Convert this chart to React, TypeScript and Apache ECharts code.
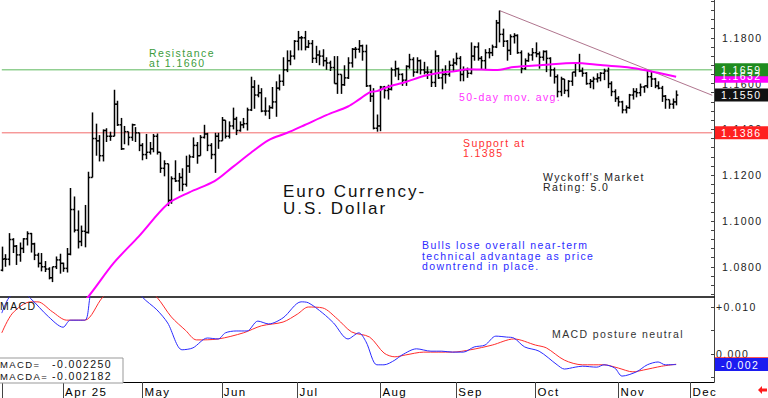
import React, { useEffect, useRef } from "react";
import * as echarts from "echarts";

const FONT = '"Liberation Sans", Arial, sans-serif';

// ---- categories: trading days (weekdays) shown on the chart ----
const FIRST_DAY = "2025-03-07";
const DAY_COUNT = 198;
const MONTH_LABELS = ["Jan", "Feb", "Mar", "Apr 25", "May", "Jun", "Jul", "Aug", "Sep", "Oct", "Nov", "Dec"];

// ---- daily bars [open, high, low, close] ----
const marBars = [
  [1.0785, 1.0888, 1.078, 1.0833], [1.0835, 1.0855, 1.08, 1.0833], [1.0833, 1.0947, 1.0806, 1.0919],
  [1.0919, 1.0925, 1.086, 1.089], [1.089, 1.0895, 1.0808, 1.0852], [1.0852, 1.0906, 1.0822, 1.088],
  [1.088, 1.0925, 1.086, 1.0922], [1.0922, 1.0955, 1.0893, 1.0945], [1.0945, 1.0948, 1.0862, 1.09],
  [1.09, 1.0905, 1.0829, 1.0851], [1.0851, 1.0861, 1.0797, 1.0815], [1.0815, 1.086, 1.078, 1.08],
  [1.08, 1.0825, 1.0777, 1.079], [1.079, 1.0798, 1.0745, 1.0752], [1.0752, 1.08, 1.0733, 1.08],
  [1.08, 1.0845, 1.079, 1.083], [1.083, 1.0857, 1.077, 1.0815],
];
const aprBars = [
  [1.0815, 1.0818, 1.0778, 1.0793], [1.0793, 1.0882, 1.0775, 1.0855], [1.0855, 1.1144, 1.085, 1.105],
  [1.105, 1.1107, 1.095, 1.096], [1.096, 1.1046, 1.088, 1.091], [1.091, 1.098, 1.089, 1.0955],
  [1.0955, 1.107, 1.0885, 1.095], [1.095, 1.1215, 1.0945, 1.119], [1.119, 1.1474, 1.119, 1.136],
  [1.136, 1.1425, 1.1285, 1.135], [1.135, 1.1375, 1.126, 1.1285], [1.1285, 1.14, 1.126, 1.1395],
  [1.1395, 1.1405, 1.1345, 1.137], [1.137, 1.139, 1.135, 1.137], [1.137, 1.1573, 1.137, 1.151],
  [1.151, 1.1525, 1.1415, 1.142], [1.142, 1.145, 1.131, 1.1315], [1.1315, 1.1415, 1.1335, 1.139],
  [1.139, 1.139, 1.133, 1.1365], [1.1365, 1.1425, 1.135, 1.142], [1.142, 1.141, 1.1345, 1.1385],
  [1.1385, 1.1385, 1.1305, 1.133],
];
const mayBars = [
  [1.133, 1.134, 1.1265, 1.129], [1.129, 1.138, 1.127, 1.13], [1.13, 1.1345, 1.129, 1.1315],
  [1.1315, 1.138, 1.13, 1.137], [1.137, 1.1382, 1.129, 1.13], [1.13, 1.13, 1.121, 1.123],
  [1.123, 1.1265, 1.1195, 1.125], [1.125, 1.125, 1.1065, 1.109], [1.109, 1.1195, 1.1075, 1.1185],
  [1.1185, 1.1265, 1.117, 1.1175], [1.1175, 1.121, 1.113, 1.119], [1.119, 1.123, 1.113, 1.116],
  [1.116, 1.1285, 1.115, 1.124], [1.124, 1.129, 1.121, 1.128], [1.128, 1.1365, 1.1275, 1.133],
  [1.133, 1.1345, 1.125, 1.1285], [1.1285, 1.1375, 1.1285, 1.1365], [1.1365, 1.142, 1.136, 1.138],
  [1.138, 1.1385, 1.1305, 1.133], [1.133, 1.134, 1.127, 1.129], [1.129, 1.1385, 1.121, 1.137],
  [1.137, 1.1385, 1.1315, 1.135],
];
const junBars = [
  [1.135, 1.1454, 1.135, 1.144], [1.144, 1.144, 1.136, 1.137], [1.137, 1.1435, 1.136, 1.1415],
  [1.1415, 1.1495, 1.14, 1.1445], [1.1445, 1.1455, 1.1375, 1.1395], [1.1395, 1.1435, 1.139, 1.142],
  [1.142, 1.145, 1.1405, 1.1425], [1.1425, 1.1495, 1.1395, 1.1485], [1.1485, 1.163, 1.148, 1.1585],
  [1.1585, 1.1615, 1.149, 1.155], [1.155, 1.1595, 1.154, 1.156], [1.156, 1.158, 1.1475, 1.148],
  [1.148, 1.154, 1.146, 1.148], [1.148, 1.1505, 1.1445, 1.1495], [1.1495, 1.1585, 1.149, 1.152],
  [1.152, 1.161, 1.1455, 1.158], [1.158, 1.164, 1.157, 1.161], [1.161, 1.1715, 1.159, 1.166],
  [1.166, 1.1745, 1.165, 1.17], [1.17, 1.1745, 1.168, 1.172], [1.172, 1.179, 1.1705, 1.1785],
];
const julBars = [
  [1.1785, 1.183, 1.1745, 1.18], [1.18, 1.1808, 1.1745, 1.18], [1.18, 1.183, 1.1745, 1.176],
  [1.176, 1.179, 1.1755, 1.1775], [1.1775, 1.179, 1.169, 1.171], [1.171, 1.1765, 1.169, 1.1725],
  [1.1725, 1.1745, 1.168, 1.172], [1.172, 1.175, 1.1675, 1.17], [1.17, 1.1715, 1.166, 1.169],
  [1.169, 1.17, 1.1655, 1.167], [1.167, 1.172, 1.16, 1.16], [1.16, 1.172, 1.1555, 1.164],
  [1.164, 1.164, 1.1555, 1.1595], [1.1595, 1.168, 1.159, 1.1625], [1.1625, 1.1715, 1.162, 1.169],
  [1.169, 1.1755, 1.167, 1.175], [1.175, 1.176, 1.171, 1.175], [1.175, 1.179, 1.1735, 1.1765],
  [1.1765, 1.177, 1.17, 1.174], [1.174, 1.177, 1.1585, 1.159], [1.159, 1.1595, 1.152, 1.1545],
  [1.1545, 1.158, 1.14, 1.1405], [1.1405, 1.1465, 1.139, 1.1415],
];
const augBars = [
  [1.1415, 1.159, 1.1392, 1.1585], [1.1585, 1.159, 1.1535, 1.157], [1.157, 1.1595, 1.153, 1.1575],
  [1.1575, 1.167, 1.157, 1.166], [1.166, 1.17, 1.163, 1.1665], [1.1665, 1.167, 1.1615, 1.164],
  [1.164, 1.1645, 1.159, 1.1615], [1.1615, 1.168, 1.159, 1.1675], [1.1675, 1.173, 1.1665, 1.1705],
  [1.1705, 1.1715, 1.163, 1.165], [1.165, 1.1715, 1.1645, 1.17], [1.17, 1.1705, 1.164, 1.166],
  [1.166, 1.1695, 1.164, 1.165], [1.165, 1.1675, 1.162, 1.165], [1.165, 1.166, 1.1585, 1.1605],
  [1.1605, 1.1745, 1.1585, 1.172], [1.172, 1.1725, 1.162, 1.1625], [1.1625, 1.1665, 1.1575, 1.164],
  [1.164, 1.168, 1.16, 1.164], [1.164, 1.17, 1.163, 1.168], [1.168, 1.171, 1.1655, 1.169],
];
const sepBars = [
  [1.169, 1.1735, 1.168, 1.171], [1.171, 1.172, 1.161, 1.164], [1.164, 1.1675, 1.161, 1.166],
  [1.166, 1.167, 1.1625, 1.1645], [1.1645, 1.178, 1.164, 1.172], [1.172, 1.1765, 1.17, 1.176],
  [1.176, 1.178, 1.17, 1.171], [1.171, 1.172, 1.166, 1.17], [1.17, 1.175, 1.166, 1.1735],
  [1.1735, 1.1755, 1.171, 1.1735], [1.1735, 1.177, 1.172, 1.176], [1.176, 1.1878, 1.1755, 1.1865],
  [1.1865, 1.1919, 1.178, 1.1815], [1.1815, 1.184, 1.176, 1.1785], [1.1785, 1.179, 1.17, 1.1745],
  [1.1745, 1.1815, 1.1725, 1.1805], [1.1805, 1.182, 1.1775, 1.181], [1.181, 1.1815, 1.173, 1.1735],
  [1.1735, 1.1745, 1.1645, 1.1665], [1.1665, 1.171, 1.166, 1.17], [1.17, 1.1735, 1.1695, 1.1725],
  [1.1725, 1.1755, 1.17, 1.1735],
];
const octBars = [
  [1.1735, 1.178, 1.1715, 1.173], [1.173, 1.174, 1.1665, 1.1715], [1.1715, 1.1745, 1.17, 1.174],
  [1.174, 1.1745, 1.165, 1.171], [1.171, 1.1715, 1.163, 1.166], [1.166, 1.167, 1.16, 1.163],
  [1.163, 1.164, 1.154, 1.1565], [1.1565, 1.163, 1.1545, 1.162], [1.162, 1.162, 1.1555, 1.157],
  [1.157, 1.1615, 1.154, 1.161], [1.161, 1.165, 1.159, 1.165], [1.165, 1.169, 1.163, 1.169],
  [1.169, 1.173, 1.165, 1.1655], [1.1655, 1.167, 1.163, 1.1645], [1.1645, 1.165, 1.1595, 1.16],
  [1.16, 1.162, 1.158, 1.161], [1.161, 1.163, 1.1575, 1.162], [1.162, 1.1645, 1.1605, 1.1625],
  [1.1625, 1.165, 1.161, 1.1645], [1.1645, 1.1665, 1.1615, 1.1655], [1.1655, 1.167, 1.158, 1.16],
  [1.16, 1.161, 1.1545, 1.1565], [1.1565, 1.1575, 1.152, 1.1535],
];
const novBars = [
  [1.1535, 1.1545, 1.15, 1.152], [1.152, 1.1525, 1.147, 1.1485], [1.1485, 1.1505, 1.147, 1.1495],
  [1.1495, 1.1555, 1.149, 1.155], [1.155, 1.158, 1.153, 1.1565], [1.1565, 1.158, 1.154, 1.156],
  [1.156, 1.16, 1.1545, 1.1585], [1.1585, 1.159, 1.156, 1.159], [1.159, 1.1655, 1.158, 1.163],
  [1.163, 1.1655, 1.1585, 1.162], [1.162, 1.1625, 1.158, 1.159], [1.159, 1.161, 1.1575, 1.158],
  [1.158, 1.159, 1.152, 1.1545], [1.1545, 1.155, 1.149, 1.153], [1.153, 1.153, 1.149, 1.151],
  [1.151, 1.1535, 1.149, 1.152], [1.152, 1.157, 1.1505, 1.155],
];

// ---- 50-day moving average [day index, value] ----
const maPoints = [
  [17, 1.0545], [24, 1.067], [31, 1.0816], [38, 1.0933], [46, 1.1074], [52, 1.1125], [59, 1.1174],
  [64, 1.1235], [69, 1.1297], [74, 1.1353], [79, 1.1384], [84, 1.1419], [90, 1.1462], [96, 1.15],
  [99, 1.153], [102, 1.1562], [104, 1.1567], [107, 1.1585], [112, 1.1607], [117, 1.1633],
  [121, 1.1646], [126, 1.1655], [129, 1.1663], [137, 1.1659], [142, 1.1672], [150, 1.1681],
  [159, 1.169], [166, 1.1681], [172, 1.1673], [177, 1.1663], [182, 1.1647], [187, 1.163],
];

// ---- MACD [day index, value] ----
const macdPoints = [
  [0, 0.0087], [2, 0.012], [5, 0.0135], [8, 0.0118], [13, 0.0079], [17, 0.0057], [19, 0.0072],
  [23, 0.0072], [25, 0.0136], [30, 0.018], [35, 0.0165], [39, 0.0121], [43, 0.0094], [46, 0.0066],
  [50, 0.0009], [53, 0.0013], [57, 0.0034], [60, 0.0032], [62, 0.0045], [65, 0.0049], [68, 0.0049],
  [71, 0.007], [74, 0.0064], [78, 0.0077], [83, 0.0111], [85, 0.0109], [89, 0.0087], [92, 0.0066],
  [96, 0.0032], [99, 0.0045], [101, 0.0026], [104, -0.0023], [106, -0.0023], [109, -0.0013],
  [111, -0.0002], [115, 0.0011], [119, 0.0006], [122, 0.0006], [125, 0.0004], [128, 0.0004],
  [131, 0.0015], [134, 0.0019], [137, 0.0038], [140, 0.0036], [142, 0.0034], [145, 0.0015],
  [149, 0.0006], [154, -0.0023], [156, -0.0032], [159, -0.0028], [161, -0.0026], [165, -0.0028],
  [167, -0.0023], [170, -0.003], [172, -0.0047], [176, -0.0038], [179, -0.0023], [182, -0.0017],
  [184, -0.0023], [187, -0.00225],
];
const signalPoints = [
  [0, 0.0045], [3, 0.0087], [8, 0.0111], [10, 0.0111], [14, 0.009], [18, 0.0072], [23, 0.0072],
  [28, 0.0121], [33, 0.015], [38, 0.0155], [43, 0.0121], [47, 0.0079], [51, 0.005], [54, 0.003],
  [60, 0.0032], [67, 0.0045], [72, 0.006], [78, 0.0068], [82, 0.0085], [85, 0.01], [89, 0.0098],
  [93, 0.0075], [97, 0.0047], [102, 0.0036], [106, 0.0002], [109, -0.0006], [112, -0.0002],
  [117, 0.0004], [125, 0.0004], [130, 0.0009], [136, 0.0019], [142, 0.0032], [148, 0.0019],
  [151, 0.0013], [156, -0.0013], [161, -0.0023], [167, -0.0023], [171, -0.003], [175, -0.0038],
  [178, -0.0034], [183, -0.0026], [187, -0.002182],
];

// ---- reference levels and labels ----
const RESISTANCE = 1.166;
const SUPPORT = 1.1385;
const TREND_FROM = [138, 1.1919];
const TREND_TO = [197, 1.1549];
const PRICE_MIN = 1.0668;
const PRICE_MAX = 1.1965;
const MACD_MIN = -0.00596;
const MACD_MAX = 0.01213;
const PRICE_TICK_LABELS = [1.08, 1.1, 1.12, 1.14, 1.16, 1.18];
const MACD_TICK_LABELS = [0, 0.01];
const MACD_TICKS = [-0.005, 0, 0.005, 0.01];
const LAST_CLOSE = 1.155;
const LAST_MA = 1.1632;
const LAST_MACD = -0.00225;
const LAST_MACDA = -0.002182;

function tradingDays(start: string, n: number): string[] {
  const out: string[] = [];
  const d = new Date(start + "T00:00:00Z");
  while (out.length < n) {
    const w = d.getUTCDay();
    if (w !== 0 && w !== 6) out.push(d.toISOString().slice(0, 10));
    d.setUTCDate(d.getUTCDate() + 1);
  }
  return out;
}

export default function App() {
  const ref = useRef<HTMLDivElement>(null);

  useEffect(() => {
    if (!ref.current) return;
    const chart = echarts.init(ref.current, undefined, { renderer: "svg" });
    const cats = tradingDays(FIRST_DAY, DAY_COUNT);
    const bars = [...marBars, ...aprBars, ...mayBars, ...junBars, ...julBars, ...augBars, ...sepBars, ...octBars, ...novBars];
    const barData = bars.map((b, i) => [i, ...b]);
    const isMonthStart = (i: number) => i > 0 && cats[i].slice(5, 7) !== cats[i - 1].slice(5, 7);
    const minorTicks: number[] = [];
    for (let k = 0; k < 40; k++) {
      const v = +(1.068 + k * 0.004).toFixed(4);
      if (v < PRICE_MAX) minorTicks.push(v);
    }
    const last = DAY_COUNT - 1;
    const levelLine = (name: string, color: string, data: number[][]) => ({
      type: "line", name, xAxisIndex: 0, yAxisIndex: 0, z: 2, data, symbol: "none", color,
      silent: true, lineStyle: { color, width: 1, type: "solid" },
    });

    const option: any = {
      animation: false,
      backgroundColor: "#ffffff",
      grid: [
        { left: 0, right: 54, top: 0, height: 297 },
        { left: 0, right: 54, top: 297, height: 85 },
      ],
      xAxis: [
        {
          type: "category", gridIndex: 0, data: cats, boundaryGap: true,
          axisLine: { show: true, onZero: false, lineStyle: { color: "#000", width: 1.6 } },
          axisTick: { show: false }, axisLabel: { show: false }, splitLine: { show: false },
        },
        {
          type: "category", gridIndex: 1, data: cats, boundaryGap: true,
          axisLine: { show: true, onZero: false, lineStyle: { color: "#000", width: 1 } },
          axisTick: {
            show: true, alignWithLabel: true, length: 16,
            interval: (i: number) => i === 0 || isMonthStart(i),
            lineStyle: { color: "#444", width: 1 },
          },
          axisLabel: {
            show: true, interval: (i: number) => isMonthStart(i), align: "left", margin: 4,
            padding: [0, 0, 0, 2], color: "#000", fontSize: 11.5, fontFamily: FONT,
            formatter: (v: string) => MONTH_LABELS[parseInt(v.slice(5, 7), 10) - 1],
          },
          splitLine: { show: false },
        },
      ],
      yAxis: [
        {
          type: "value", gridIndex: 0, position: "right", min: PRICE_MIN, max: PRICE_MAX, scale: true,
          axisLine: { show: true, lineStyle: { color: "#444" } },
          axisTick: { show: true, inside: true, length: 3, customValues: minorTicks, lineStyle: { color: "#444" } },
          axisLabel: {
            customValues: PRICE_TICK_LABELS, formatter: (v: number) => v.toFixed(4),
            margin: 8, color: "#222", fontSize: 10.5, fontFamily: FONT,
          },
          splitLine: { show: false },
        },
        {
          type: "value", gridIndex: 1, position: "right", min: MACD_MIN, max: MACD_MAX,
          axisLine: { show: true, lineStyle: { color: "#444" } },
          axisTick: { show: true, inside: true, length: 3, customValues: MACD_TICKS, lineStyle: { color: "#444" } },
          axisLabel: {
            customValues: MACD_TICK_LABELS,
            formatter: (v: number) => (Math.abs(v) < 1e-9 ? "0.000" : "+" + v.toFixed(3)),
            margin: 2, color: "#222", fontSize: 10.5, fontFamily: FONT,
          },
          splitLine: { show: false },
        },
      ],
      series: [
        levelLine("resistance", "#5cb85c", [[0, RESISTANCE], [last, RESISTANCE]]),
        levelLine("support", "#f26b6b", [[0, SUPPORT], [last, SUPPORT]]),
        levelLine("trend", "#b0758e", [TREND_FROM, TREND_TO]),
        {
          type: "custom", name: "bars", xAxisIndex: 0, yAxisIndex: 0, z: 3, clip: true,
          data: barData, encode: { x: 0, y: [1, 2, 3, 4] },
          renderItem: (_p: any, api: any) => {
            const i = api.value(0);
            const o = api.coord([i, api.value(1)]);
            const h = api.coord([i, api.value(2)]);
            const l = api.coord([i, api.value(3)]);
            const c = api.coord([i, api.value(4)]);
            const x = Math.round(h[0]) + 0.5;
            const st = { stroke: "#000", lineWidth: 1.5 };
            return {
              type: "group",
              children: [
                { type: "line", shape: { x1: x, y1: h[1], x2: x, y2: l[1] }, style: st },
                { type: "line", shape: { x1: x - 1.8, y1: o[1], x2: x, y2: o[1] }, style: st },
                { type: "line", shape: { x1: x, y1: c[1], x2: x + 1.8, y2: c[1] }, style: st },
              ],
            };
          },
        },
        {
          type: "line", name: "ma", xAxisIndex: 0, yAxisIndex: 0, z: 4, data: maPoints, color: "#ff00ff",
          symbol: "none", smooth: 0.3, lineStyle: { color: "#ff00ff", width: 2 },
        },
        {
          type: "line", name: "macd", xAxisIndex: 1, yAxisIndex: 1, data: macdPoints, symbol: "none", color: "#2b2bff",
          smooth: 0.3, lineStyle: { color: "#2b2bff", width: 1 }, z: 3,
        },
        {
          type: "line", name: "macda", xAxisIndex: 1, yAxisIndex: 1, data: signalPoints, symbol: "none", color: "#ff2b2b",
          smooth: 0.3, lineStyle: { color: "#ff2b2b", width: 1 }, z: 2,
        },
      ],
    };
    chart.setOption(option);

    const yP = (v: number) => chart.convertToPixel({ yAxisIndex: 0 }, v) as number;
    const yM = (v: number) => chart.convertToPixel({ yAxisIndex: 1 }, v) as number;
    const txt = (text: string, x: number, y: number, fill: string, size = 10.5) => ({
      type: "text", x, y, z: 50,
      style: { text, fill, font: `${size}px ${FONT}`, textVerticalAlign: "middle", verticalAlign: "middle", textAlign: "left", align: "left" },
    });
    const box = (y: number, text: string, bg: string, h = 13) => [
      { type: "rect", z: 60, shape: { x: 715, y: y - h / 2, width: 53, height: h }, style: { fill: bg } },
      { type: "text", z: 61, x: 721, y, style: { text, fill: "#fff", font: `10.5px ${FONT}`, textVerticalAlign: "middle", verticalAlign: "middle" } },
    ];

    const graphic: any[] = [
      txt("Resistance", 149, 53, "#3c9c3c"),
      txt("at 1.1660", 149, 63, "#3c9c3c"),
      txt("50-day mov. avg.", 459, 97, "#ff33ff"),
      txt("Support at", 463, 143, "#ff3030"),
      txt("1.1385", 463, 153, "#ff3030"),
      txt("Euro Currency-", 283, 191, "#111", 17),
      txt("U.S. Dollar", 283, 208, "#111", 17),
      txt("Wyckoff's Market", 543, 177, "#222"),
      txt("Rating: 5.0", 543, 187, "#222"),
      txt("Bulls lose overall near-term", 422, 245, "#2b2bff"),
      txt("technical advantage as price", 422, 256, "#2b2bff"),
      txt("downtrend in place.", 422, 266, "#2b2bff"),
      txt("MACD posture neutral", 552, 334, "#333"),
      txt("MACD", 0, 306, "#111"),
      { type: "rect", z: 40, shape: { x: -1, y: 358, width: 124, height: 25 }, style: { fill: "#fff", stroke: "#999", lineWidth: 1 } },
      txt("MACD=", 0, 364, "#111", 9.5),
      txt("-0.002250", 52, 364, "#111"),
      txt("MACDA=", 0, 376, "#111", 9.5),
      txt("-0.002182", 52, 376, "#111"),
      ...box(yP(LAST_MA), "1.1632", "#ff00ff"),
      ...box(yP(RESISTANCE), "1.1659", "#1f8c1f"),
      ...box(yP(LAST_CLOSE), "1.1550", "#111111"),
      ...box(yP(SUPPORT), "1.1386", "#ff2020"),
      { type: "rect", z: 59, shape: { x: 715, y: yM(LAST_MACDA) - 7, width: 53, height: 3 }, style: { fill: "#ff2020" } },
      ...box(yM(LAST_MACD), "-0.002", "#1c1cf0"),
      {
        type: "polygon", z: 60,
        shape: { points: [[758, 390], [762, 386], [762, 388.5], [767, 388.5], [767, 391.5], [762, 391.5], [762, 394]] },
        style: { fill: "#ff1a1a" },
      },
    ];
    chart.setOption({ graphic });

    return () => chart.dispose();
  }, []);

  return (
    <>
      <style>{`.wchart text{letter-spacing:1.4px}.wchart text[style*="17px"]{letter-spacing:2px}`}</style>
      <div
        ref={ref}
        className="wchart"
        style={{ position: "fixed", left: 0, top: 0, width: 768, height: 398, background: "#fff" }}
      />
    </>
  );
}
